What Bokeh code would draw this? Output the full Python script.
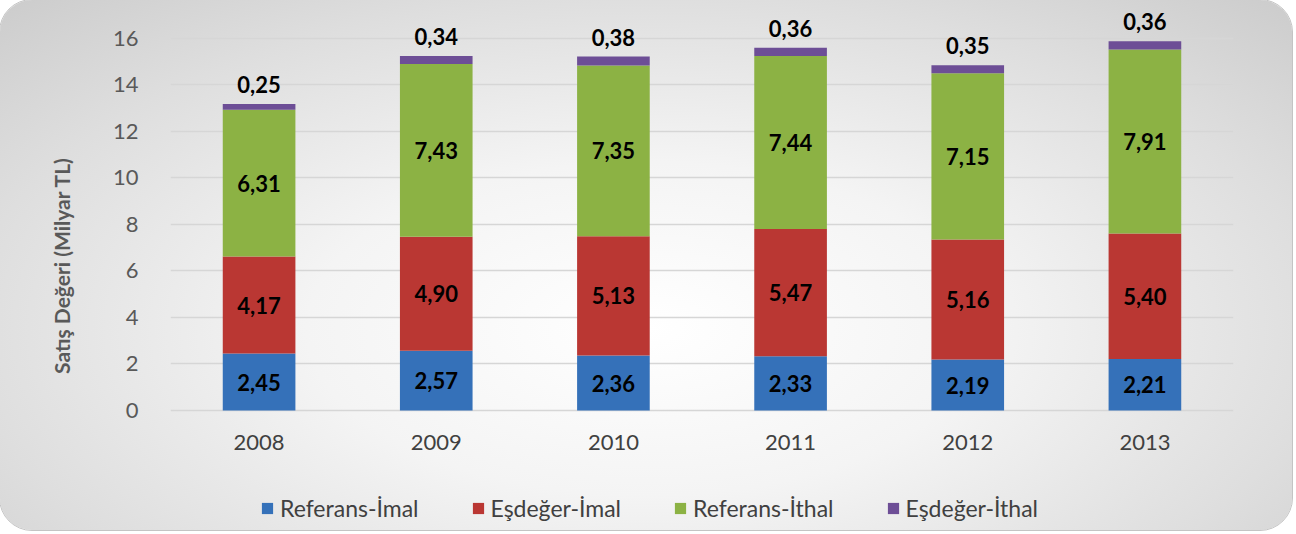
from bokeh.plotting import figure
from bokeh.models import (ColumnDataSource, FactorRange, Range1d, FixedTicker, Legend, LegendItem,
                          InlineStyleSheet, LabelSet)
from bokeh.core.properties import value
from bokeh.embed import file_html
from bokeh.resources import INLINE

years = ["2008", "2009", "2010", "2011", "2012", "2013"]
referans_imal = [2.45, 2.57, 2.36, 2.33, 2.19, 2.21]
esdeger_imal = [4.17, 4.90, 5.13, 5.47, 5.16, 5.40]
referans_ithal = [6.31, 7.43, 7.35, 7.44, 7.15, 7.91]
esdeger_ithal = [0.25, 0.34, 0.38, 0.36, 0.35, 0.36]

series_names = ["Referans-İmal", "Eşdeğer-İmal", "Referans-İthal", "Eşdeğer-İthal"]
series_values = [referans_imal, esdeger_imal, referans_ithal, esdeger_ithal]
colors = ["#3571b9", "#ba3733", "#8cb244", "#6d4e96"]
y_ticks = [0, 2, 4, 6, 8, 10, 12, 14, 16]

FONT = "Lato"

def fmt(v):
    return f"{v:.2f}".replace(".", ",")

p = figure(x_range=FactorRange(factors=years), y_range=Range1d(-5.16, 17.63),
           width=1292, height=530, output_backend="svg", toolbar_location=None,
           min_border_left=170, min_border_right=59, min_border_top=0, min_border_bottom=0)

p.stylesheets.append(InlineStyleSheet(css=""":host {
  background: radial-gradient(ellipse 75% 90% at 50% 62%, #ffffff 0%, #f4f4f4 35%, #dedede 70%, #c9c9c9 100%);
  border-radius: 32px;
  outline: 1px solid #c4c4c4;
}"""))
p.border_fill_color = None
p.background_fill_color = None
p.outline_line_color = None

renderers = []
bottom = [0.0] * len(years)
for name, vals, col in zip(series_names, series_values, colors):
    top = [b + v for b, v in zip(bottom, vals)]
    src = ColumnDataSource(dict(x=years, bottom=bottom, top=top,
                                mid=[(b + t) / 2 for b, t in zip(bottom, top)],
                                t=[fmt(v) for v in vals]))
    r = p.vbar(x="x", bottom="bottom", top="top", width=0.41, source=src,
               fill_color=col, line_color=None)
    renderers.append(r)
    if name != series_names[-1]:
        p.add_layout(LabelSet(x="x", y="mid", text="t", source=src, text_align="center",
                              text_baseline="middle", text_font=value(FONT), text_font_style="bold",
                              text_font_size="22px", text_color="#000000"))
    else:
        p.add_layout(LabelSet(x="x", y="top", text="t", source=src, text_align="center",
                              text_baseline="alphabetic", y_offset=11, text_font=value(FONT),
                              text_font_style="bold", text_font_size="22px", text_color="#000000"))
    bottom = top

p.yaxis.ticker = FixedTicker(ticks=y_ticks)
p.yaxis.axis_line_color = None
p.yaxis.major_tick_line_color = None
p.yaxis.minor_tick_line_color = None
p.yaxis.major_label_standoff = 26
p.yaxis.major_label_text_font = FONT
p.yaxis.major_label_text_font_size = "22px"
p.yaxis.major_label_text_color = "#595959"
p.yaxis.axis_label = "Satış Değeri (Milyar TL)"
p.yaxis.axis_label_text_font = FONT
p.yaxis.axis_label_text_font_style = "bold"
p.yaxis.axis_label_text_font_size = "21px"
p.yaxis.axis_label_text_color = "#595959"
p.yaxis.axis_label_standoff = 36

p.xaxis.fixed_location = 0
p.xaxis.axis_line_color = None
p.xaxis.major_tick_line_color = None
p.xaxis.minor_tick_line_color = None
p.xaxis.major_label_standoff = 18
p.xaxis.major_label_text_font = FONT
p.xaxis.major_label_text_font_size = "22px"
p.xaxis.major_label_text_color = "#404040"

p.xgrid.grid_line_color = None
p.ygrid.grid_line_color = "#d6d6d6"
p.ygrid.grid_line_width = 1.5

items = [LegendItem(label=n, renderers=[r]) for n, r in zip(series_names, renderers)]
legend = Legend(items=items, orientation="horizontal", location=(90, 8),
                glyph_width=14, glyph_height=14, label_standoff=6, spacing=52,
                label_text_font=FONT, label_text_font_size="23px", label_text_color="#404040",
                background_fill_alpha=0, border_line_color=None, margin=0, padding=5)
p.add_layout(legend)

open("out.html", "w").write(file_html(p, INLINE))
